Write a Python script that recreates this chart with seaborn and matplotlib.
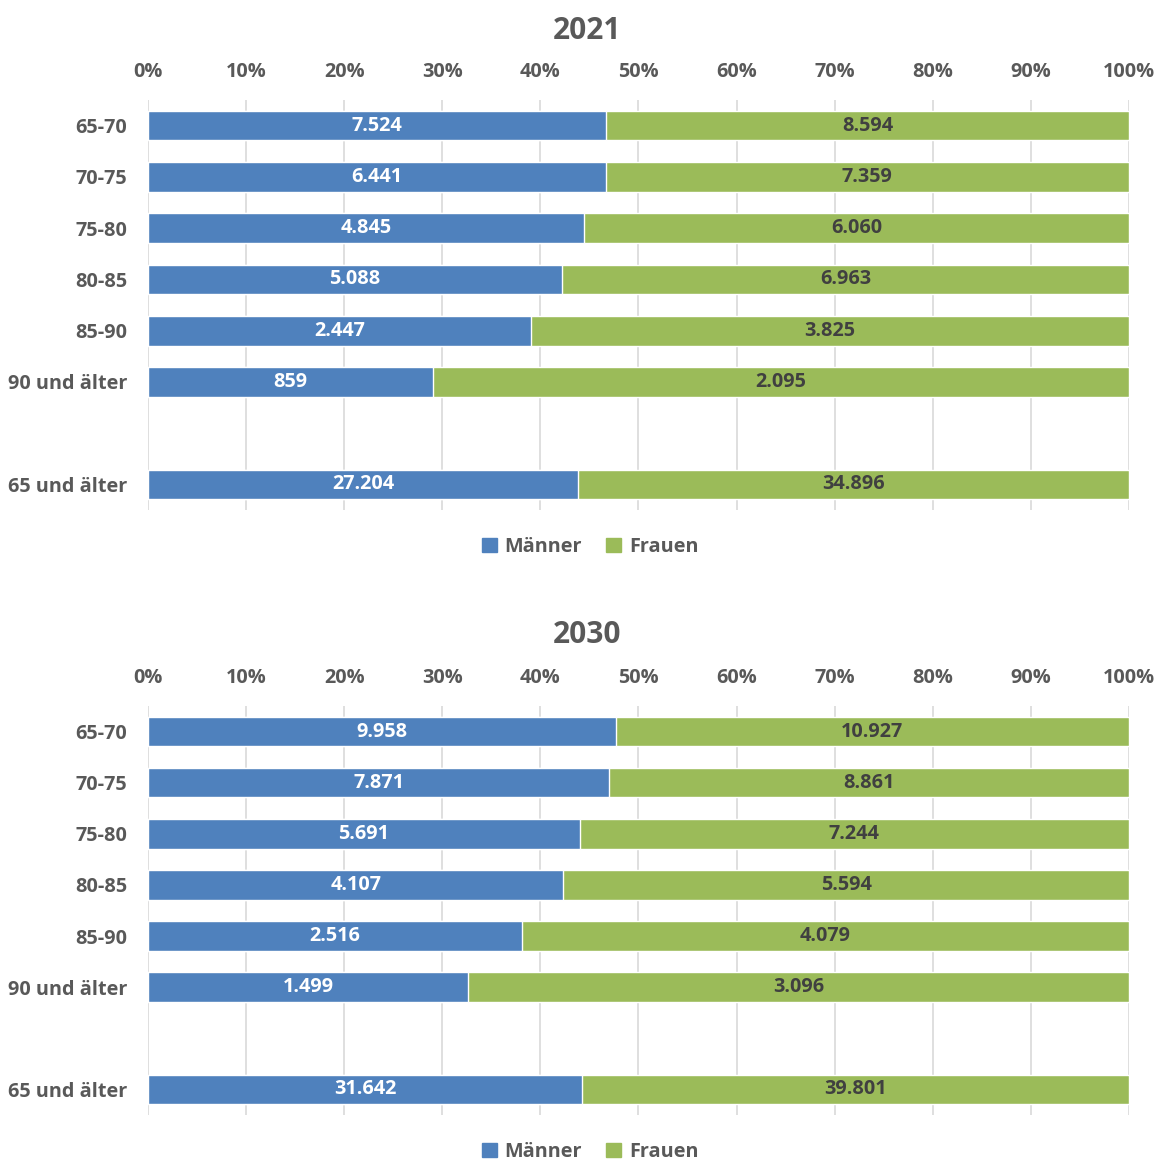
import matplotlib
matplotlib.use("Agg")
import matplotlib.pyplot as plt
from matplotlib.patches import Patch
import pandas as pd
import seaborn as sns

groups = ["65-70", "70-75", "75-80", "80-85", "85-90", "90 und älter", "65 und älter"]
order = ["65-70", "70-75", "75-80", "80-85", "85-90", "90 und älter", " ", "65 und älter"]
men_2021 = [7524, 6441, 4845, 5088, 2447, 859, 27204]
women_2021 = [8594, 7359, 6060, 6963, 3825, 2095, 34896]
men_2030 = [9958, 7871, 5691, 4107, 2516, 1499, 31642]
women_2030 = [10927, 8861, 7244, 5594, 4079, 3096, 39801]
years = ["2021", "2030"]

BLUE = "#4F81BD"
GREEN = "#9BBB59"
TXT = "#595959"

sns.set_theme(style="white")
plt.rcParams["font.family"] = ["Open Sans", "DejaVu Sans"]
plt.rcParams["font.weight"] = "bold"
FS = 14.3


def de_fmt(v):
    return f"{v:,}".replace(",", ".")


fig = plt.figure(figsize=(11.57, 11.6), dpi=100)
axes_pos = [[0.1279, 0.5603, 0.8479, 0.3535], [0.1279, 0.0388, 0.8479, 0.3526]]
title_y = [0.9735, 0.4525]
legend_y = [0.5284, 0.0069]

for i, (men, women) in enumerate([(men_2021, women_2021), (men_2030, women_2030)]):
    df = pd.DataFrame({"Gruppe": groups, "men": men, "women": women})
    df["total"] = df["men"] + df["women"]
    df["men_pct"] = df["men"] / df["total"] * 100
    df["all_pct"] = 100.0

    ax = fig.add_axes(axes_pos[i])
    sns.barplot(data=df, x="all_pct", y="Gruppe", order=order, color=GREEN,
                width=0.58, saturation=1, ax=ax, zorder=3)
    sns.barplot(data=df, x="men_pct", y="Gruppe", order=order, color=BLUE,
                width=0.58, saturation=1, ax=ax, zorder=3)

    green_bars, blue_bars = ax.containers[0], ax.containers[1]
    ax.bar_label(blue_bars, labels=[de_fmt(v) for v in df["men"]], label_type="center",
                 color="white", fontsize=FS, fontweight="bold")
    # women label centred in green segment
    for bar, pct, w in zip(green_bars, df["men_pct"], df["women"]):
        y = bar.get_y() + bar.get_height() / 2
        ax.text((pct + 100) / 2, y, de_fmt(w), ha="center", va="center",
                color="#404040", fontsize=FS, fontweight="bold", zorder=4)

    ax.set_xlim(0, 100)
    ax.set_ylim(len(order) - 0.5, -0.5)
    ax.set_xticks(range(0, 101, 10))
    ax.set_xticklabels([f"{t}%" for t in range(0, 101, 10)])
    ax.xaxis.tick_top()
    ax.tick_params(axis="x", length=0, pad=13, labelsize=FS, labelcolor=TXT)
    ax.tick_params(axis="y", length=0, pad=15, labelsize=FS, labelcolor=TXT)
    for lab in ax.get_xticklabels() + ax.get_yticklabels():
        lab.set_fontweight("bold")
    ax.grid(axis="x", color="#D9D9D9", linewidth=1.2, zorder=0)
    ax.grid(axis="y", visible=False)
    for s in ax.spines.values():
        s.set_visible(False)
    ax.set_xlabel("")
    ax.set_ylabel("")

    fig.text(0.507, title_y[i], years[i], ha="center", va="center", fontsize=21.5,
             fontweight="bold", color=TXT)
    handles = [Patch(color=BLUE, label="Männer"), Patch(color=GREEN, label="Frauen")]
    fig.legend(handles=handles, loc="center", bbox_to_anchor=(0.51, legend_y[i]),
               ncol=2, frameon=False, labelcolor=TXT,
               handlelength=0.75, handleheight=0.75, handletextpad=0.4, columnspacing=1.2,
               prop={"weight": "bold", "size": FS})

fig.savefig("out.png", dpi=100)
